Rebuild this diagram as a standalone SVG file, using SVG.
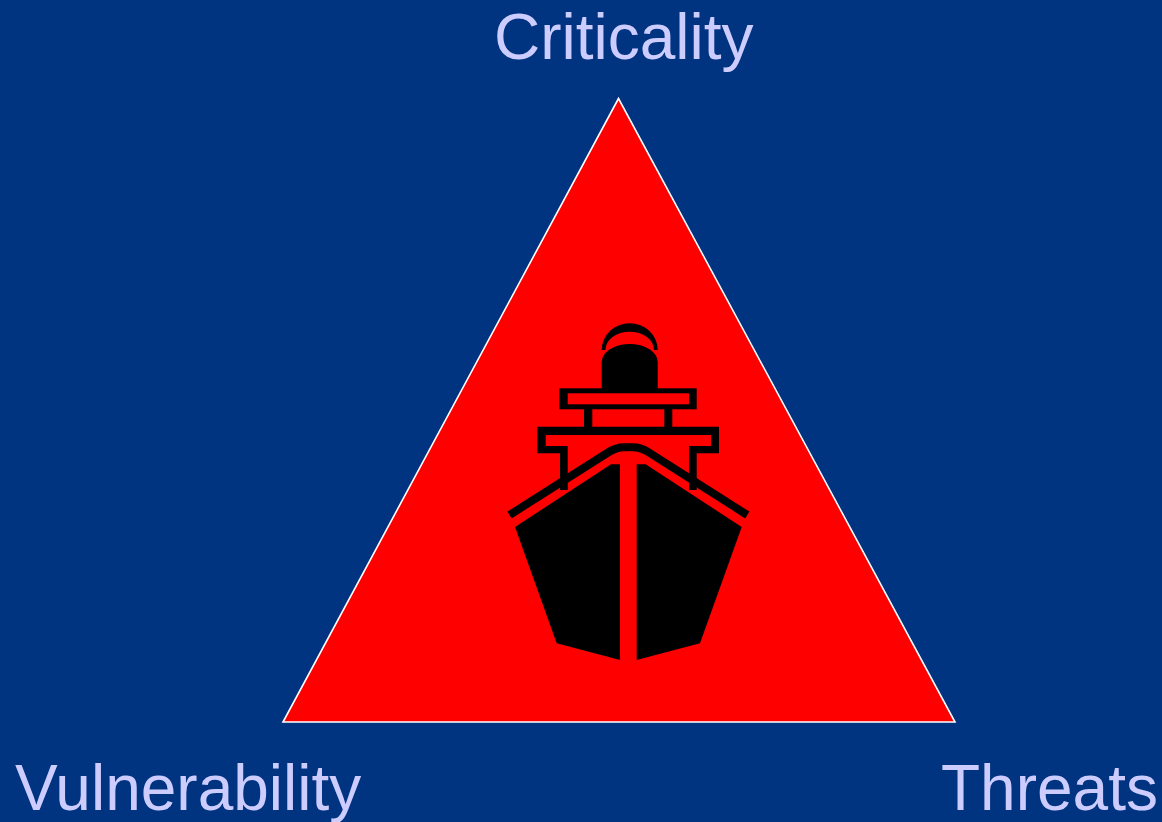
<svg xmlns="http://www.w3.org/2000/svg" width="1162" height="822" viewBox="0 0 1162 822">
<style>
.lbl{font-family:"Liberation Sans",Arial,sans-serif;font-size:64px;fill:#ccccff}
.blk{fill:#000}
.red{fill:#ff0000}
</style>
<rect x="0" y="0" width="1162" height="822" fill="#003380"/>
<g id="triangle">
<polygon points="618.5,98.5 283,722 955,722" fill="#ff0000" stroke="#ffffff" stroke-width="1.6" stroke-linejoin="miter"/>
</g>
<g id="ship">
<path class="blk" d="M601.7,350 A28,26.7 0 0 1 657.7,350 L654,350 A24.3,18.3 0 0 0 605.4,350 Z"/>
<path class="blk" d="M601.7,390 V362 A28,18 0 0 1 657.7,362 V390 Z"/>
<rect class="blk" x="559.3" y="388.3" width="137.4" height="21"/>
<rect class="red" x="567.7" y="393.3" width="121.3" height="11"/>
<rect class="blk" x="584" y="408" width="8.3" height="20"/>
<rect class="blk" x="664.3" y="408" width="8" height="20"/>
<path class="blk" d="M537.3,426.7 H719 V453.3 H696.7 V490 H689 V446 H711 V435 H545.7 V446 H567.7 V490 H560 V453.3 H537.3 Z"/>
<path d="M509.5,515 L608,452.5 Q616,447.2 624,447.2 H633 Q641,447.2 649,452.5 L747.3,515" fill="none" stroke="#000" stroke-width="8" stroke-linejoin="round"/>
<polygon class="blk" points="611,464.3 620,464.3 620,660 556.7,643.3 515,527"/>
<polygon class="blk" points="645.7,464.3 636.7,464.3 636.7,660 700,643.3 741.7,527"/>
</g>
<g id="labels">
<text class="lbl" x="494" y="59">Criticality</text>
<text class="lbl" x="15" y="810">Vulnerability</text>
<text class="lbl" x="941" y="810">Threats</text>
</g>
</svg>
